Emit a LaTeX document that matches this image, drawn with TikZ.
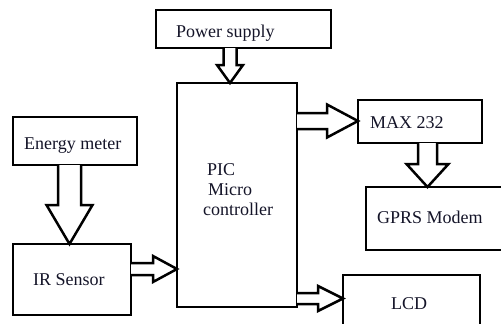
\documentclass[tikz,border=0pt]{standalone}
\usepackage{fontspec}
\setmainfont{Liberation Serif}
\usetikzlibrary{calc}
\definecolor{txt}{RGB}{20,20,40}
\tikzset{
  box/.style={draw=black, line width=2.5pt, rectangle, inner sep=0pt, outer sep=0pt},
  lbl/.style={anchor=base west, inner sep=0pt, text=txt, font=\fontsize{18}{20}\selectfont},
  arr/.style={draw=black, line width=2.5pt, line join=miter, fill=white}
}
% vertical block arrow: start, tip, half shaft, half head, head length
\newcommand{\varrow}[5]{%
  \draw[arr] let \p1=(#1), \p2=(#2) in
    (\x1-#3,\y1) -- (\x1-#3,\y2+#5) -- (\x1-#4,\y2+#5) -- (\x1,\y2)
    -- (\x1+#4,\y2+#5) -- (\x1+#3,\y2+#5) -- (\x1+#3,\y1);}
% horizontal block arrow: start, tip, half shaft, half head, head length
\newcommand{\harrow}[5]{%
  \draw[arr] let \p1=(#1), \p2=(#2) in
    (\x1,\y1+#3) -- (\x2-#5,\y1+#3) -- (\x2-#5,\y1+#4) -- (\x2,\y1)
    -- (\x2-#5,\y1-#4) -- (\x2-#5,\y1-#3) -- (\x1,\y1-#3);}
\begin{document}
\begin{tikzpicture}[x=1pt,y=-1pt]
\useasboundingbox (0,0) rectangle (501,324);
\clip (0,0) rectangle (501,324);
% boxes
\node[box, minimum width=175pt, minimum height=38pt] (power) at (243.5,29) {};
\node[box, minimum width=120pt, minimum height=224pt] (pic) at (237,195) {};
\node[box, minimum width=124pt, minimum height=48pt] (energy) at (75,141) {};
\node[box, minimum width=118pt, minimum height=71pt] (ir) at (72,279.5) {};
\node[box, minimum width=124pt, minimum height=43pt] (max) at (420,121.5) {};
\node[box, minimum width=154pt, minimum height=63pt] (gprs) at (443,218.5) {};
\node[box, minimum width=137pt, minimum height=65pt] (lcd) at (411.5,307.5) {};
% labels
\node[lbl] (tpower) at (176,37) {Power supply};
\node[lbl] (tenergy) at (24,149) {Energy meter};
\node[lbl] (tir) at (33,285) {IR Sensor};
\node[lbl] (tpic1) at (207,175) {PIC};
\node[lbl] (tpic2) at (208,195) {Micro};
\node[lbl] (tpic3) at (203,215) {controller};
\node[lbl] (tmax) at (370,128) {MAX 232};
\node[lbl] (tgprs) at (377,223) {GPRS Modem};
\node[lbl] (tlcd) at (391,309) {LCD};
% connector end points
\coordinate (pwS) at (power.south -| 230,0);
\coordinate (pwT) at (pic.north -| 230,0);
\coordinate (enS) at (energy.south -| 69.5,0);
\coordinate (enT) at (ir.north -| 69.5,0);
\coordinate (irS) at (ir.east |- 0,269);
\coordinate (irT) at (pic.west |- 0,269);
\coordinate (mxS) at (pic.east |- 0,121);
\coordinate (mxT) at (max.west |- 0,121);
\coordinate (gpS) at (max.south -| 427.5,0);
\coordinate (gpT) at (gprs.north -| 427.5,0);
\coordinate (lcS) at (pic.east |- 0,298.5);
\coordinate (lcT) at (lcd.west |- 0,298.5);
% block arrows
\varrow{pwS}{pwT}{6.5}{13}{18}
\varrow{enS}{enT}{11.5}{23}{39}
\harrow{irS}{irT}{6}{13}{24}
\harrow{mxS}{mxT}{8}{16.5}{31}
\varrow{gpS}{gpT}{9.5}{21}{23}
\harrow{lcS}{lcT}{5.5}{12.5}{25}
\end{tikzpicture}
\end{document}
